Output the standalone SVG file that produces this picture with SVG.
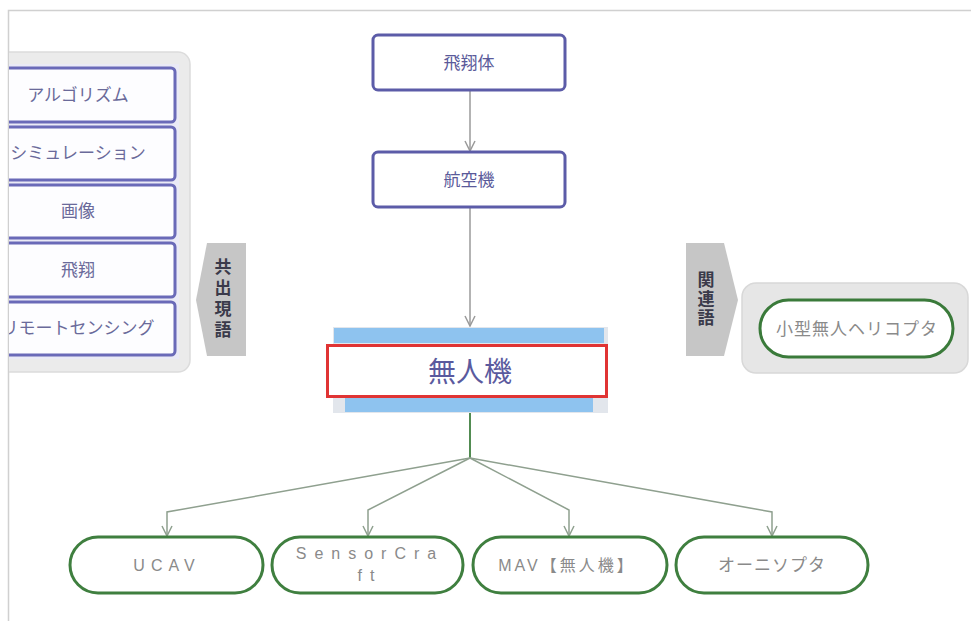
<svg xmlns="http://www.w3.org/2000/svg" width="971" height="621" viewBox="0 0 971 621">
<defs>
<style>
.jp{font-family:"Liberation Sans","Noto Sans CJK JP",sans-serif;}
.lbox{fill:#fdfdff;stroke:#6a6ab8;stroke-width:3;}
.ltxt{font-size:17px;fill:#6a6a9a;text-anchor:middle;dominant-baseline:central;}
.cbox{fill:#ffffff;stroke:#5c5ca8;stroke-width:3;}
.ctxt{font-size:17px;fill:#5a5a9a;text-anchor:middle;dominant-baseline:central;}
.pill{fill:#ffffff;stroke:#3f7f3f;stroke-width:3;}
.ptxt{font-size:16px;fill:#8a8a8a;text-anchor:middle;dominant-baseline:central;}
.tag{fill:#c6c6c6;}
.tagtxt{font-size:17px;font-weight:bold;fill:#3a3a4a;text-anchor:middle;dominant-baseline:central;writing-mode:vertical-rl;}
.conn{fill:none;stroke:#9a9a9a;stroke-width:1.5;}
.connG{fill:none;stroke:#8fa08f;stroke-width:1.5;}
</style>
<marker id="arr" viewBox="0 0 12 12" refX="11" refY="6" markerWidth="12" markerHeight="12" markerUnits="userSpaceOnUse" orient="auto">
<path d="M1,1 L11,6 L1,11" fill="none" stroke="#9a9a9a" stroke-width="1.5"/>
</marker>
<marker id="arrG" viewBox="0 0 12 12" refX="11" refY="6" markerWidth="12" markerHeight="12" markerUnits="userSpaceOnUse" orient="auto">
<path d="M1,1 L11,6 L1,11" fill="none" stroke="#8fa08f" stroke-width="1.5"/>
</marker>
<clipPath id="frameClip"><rect x="9" y="11" width="962" height="610"/></clipPath>
</defs>
<rect x="0" y="0" width="971" height="621" fill="#ffffff"/>
<path d="M8.5,621 V10.5 H971" fill="none" stroke="#d0d0d0" stroke-width="1.5"/>

<g id="cooccurrence-panel" clip-path="url(#frameClip)">
<rect x="-20" y="52" width="210" height="320" rx="12" fill="#ebebeb" stroke="#dcdcdc" stroke-width="1.5"/>
<rect x="-15" y="64" width="194" height="295" fill="#eaeaf6"/>
<g id="n-algorithm"><rect class="lbox" x="-20" y="68" width="195" height="54" rx="4"/><text class="jp ltxt" x="78" y="95">アルゴリズム</text></g>
<g id="n-simulation"><rect class="lbox" x="-20" y="127" width="195" height="53" rx="4"/><text class="jp ltxt" x="78" y="153.5">シミュレーション</text></g>
<g id="n-image"><rect class="lbox" x="-20" y="185" width="195" height="53" rx="4"/><text class="jp ltxt" x="78" y="211.5">画像</text></g>
<g id="n-flight"><rect class="lbox" x="-20" y="243" width="195" height="54" rx="4"/><text class="jp ltxt" x="78" y="270">飛翔</text></g>
<g id="n-remote"><rect class="lbox" x="-20" y="302" width="195" height="53" rx="4"/><text class="jp ltxt" x="78" y="328.5">リモートセンシング</text></g>
</g>

<g id="tag-cooccurrence">
<polygon class="tag" points="207,243 246,243 246,356 207,356 196,300"/>
<text class="jp tagtxt" x="221" y="300" style="letter-spacing:4px">共出現語</text>
</g>

<g id="tag-related">
<polygon class="tag" points="686,243 724,243 738,300 724,356 686,356"/>
<text class="jp tagtxt" x="704" y="300" style="letter-spacing:2px">関連語</text>
</g>

<g id="related-panel">
<rect x="742" y="283" width="226" height="90" rx="14" fill="#e6e6e6" stroke="#d8d8d8" stroke-width="1.5"/>
<g id="n-heli">
<rect class="pill" x="760" y="300" width="193" height="57" rx="28.5" style="stroke:#3a7a3a"/>
<text class="jp ptxt" x="857" y="329" style="font-size:17px;letter-spacing:1px">小型無人ヘリコプタ</text>
</g>
</g>

<g id="connectors">
<line class="conn" x1="470" y1="90" x2="470" y2="151" marker-end="url(#arr)"/>
<line class="conn" x1="470" y1="207" x2="470" y2="326" marker-end="url(#arr)"/>
<line x1="470" y1="412" x2="470" y2="458" stroke="#3f7f3f" stroke-width="1.8"/>
<polyline class="connG" points="470,458 167,512 167,536" marker-end="url(#arrG)"/>
<polyline class="connG" points="470,458 368,510 368,536" marker-end="url(#arrG)"/>
<polyline class="connG" points="470,458 569,510 569,536" marker-end="url(#arrG)"/>
<polyline class="connG" points="470,458 772,512 772,536" marker-end="url(#arrG)"/>
</g>

<g id="n-hishotai">
<rect class="cbox" x="373" y="35" width="192" height="55" rx="5"/>
<text class="jp ctxt" x="469" y="63">飛翔体</text>
</g>
<g id="n-kokuki">
<rect class="cbox" x="373" y="152" width="192" height="55" rx="5"/>
<text class="jp ctxt" x="469" y="180">航空機</text>
</g>

<g id="n-mujinki">
<rect x="333" y="327" width="275" height="86" fill="#e2e6ec"/>
<rect x="334" y="328" width="270" height="15" fill="#8ec3ef"/>
<rect x="345" y="398" width="248" height="14" fill="#8ec3ef"/>
<rect x="327.5" y="345.5" width="279" height="51" fill="#ffffff" stroke="#e03434" stroke-width="3"/>
<text class="jp" x="470" y="372" style="font-size:28px;fill:#5a5a9e;text-anchor:middle;dominant-baseline:central">無人機</text>
</g>

<g id="n-ucav">
<rect class="pill" x="70" y="537" width="193" height="56" rx="28"/>
<text class="jp ptxt" x="167" y="565" style="letter-spacing:6px">UCAV</text>
</g>
<g id="n-sensorcraft">
<rect class="pill" x="272" y="537" width="191" height="56" rx="28"/>
<text class="jp ptxt" x="370" y="553" style="letter-spacing:8px">SensorCra</text>
<text class="jp ptxt" x="370" y="575" style="letter-spacing:8px">ft</text>
</g>
<g id="n-mav">
<rect class="pill" x="473" y="537" width="194" height="56" rx="28"/>
<text class="jp ptxt" x="567" y="565" style="letter-spacing:3px">MAV【無人機】</text>
</g>
<g id="n-ornithopter">
<rect class="pill" x="676" y="537" width="192" height="56" rx="28"/>
<text class="jp ptxt" x="772" y="565" style="font-size:17px;letter-spacing:1px">オーニソプタ</text>
</g>
</svg>
